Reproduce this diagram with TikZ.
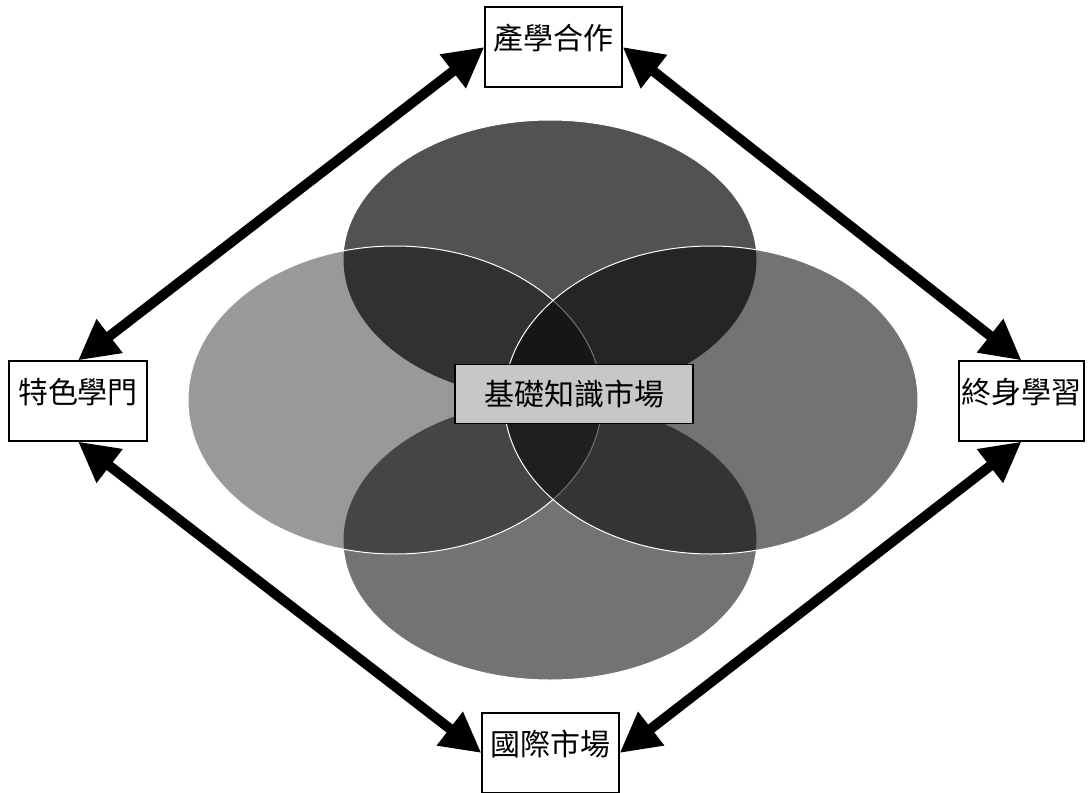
\documentclass[tikz,border=0pt]{standalone}
\usepackage{fontspec}
\newfontfamily\cjk{Noto Sans CJK TC}
\usepackage{tikz}
\usetikzlibrary{arrows.meta,positioning}

\begin{document}
\begin{tikzpicture}[x=1pt, y=-1pt,
  market/.style={draw, line width=1.2pt, inner sep=0pt, fill=white, font=\cjk\fontsize{30}{32}\selectfont, text height=42pt, text depth=38pt, minimum width=137pt},
  core/.style={draw, line width=1.5pt, inner sep=0pt, fill=black!22, font=\cjk\fontsize{30}{32}\selectfont, minimum width=238pt, minimum height=59pt},
  petal/.style={fill=black, draw=white, line width=1pt},
  link/.style={line width=10pt, {Triangle[length=40pt,width=40pt]}-{Triangle[length=40pt,width=40pt]}}]
\useasboundingbox (0,0) rectangle (1088,793);
% four overlapping fields
\filldraw[petal, fill opacity=0.68] (550,260) ellipse [x radius=207, y radius=140];
\filldraw[petal, fill opacity=0.55] (550,540) ellipse [x radius=207, y radius=140];
\filldraw[petal, fill opacity=0.40] (395,400) ellipse [x radius=207, y radius=154];
\filldraw[petal, fill opacity=0.55] (711,400) ellipse [x radius=207, y radius=154];
\node[core] (base) at (574,394) {基礎知識市場};
\node[market] (coop) at (553.5,47) {產學合作};
\node[market, minimum width=138pt] (feat) at (78,401) {特色學門};
\node[market, minimum width=125pt] (life) at (1021.5,401) {終身學習};
\node[market] (intl) at (550.5,753) {國際市場};
\draw[link] (coop.west) -- (feat.north);
\draw[link] (coop.east) -- (life.north);
\draw[link] (feat.south) -- (intl.west);
\draw[link] (life.south) -- (intl.east);
\end{tikzpicture}
\end{document}
